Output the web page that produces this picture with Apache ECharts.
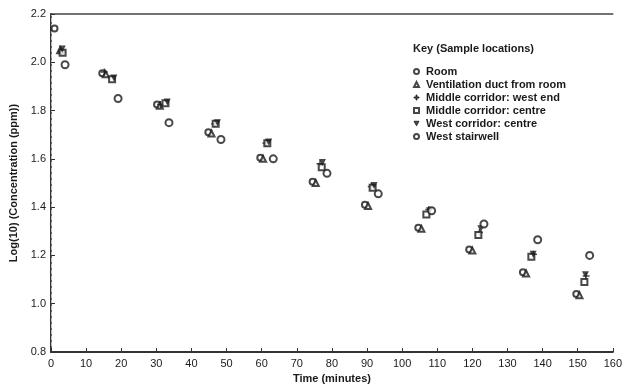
<!DOCTYPE html>
<html>
<head>
<meta charset="utf-8">
<script src="https://cdn.jsdelivr.net/npm/echarts@6/dist/echarts.min.js"></script>
<style>html,body{margin:0;padding:0;background:#fff}#c{width:625px;height:390px}</style>
</head>
<body>
<div id="c"></div>
<script>
var xTicks = [0,10,20,30,40,50,60,70,80,90,100,110,120,130,140,150,160];
var yTicks = [0.8,1.0,1.2,1.4,1.6,1.8,2.0,2.2];
var seriesNames = ["Room","Ventilation duct from room","Middle corridor: west end","Middle corridor: centre","West corridor: centre","West stairwell"];
var room = [[1,2.14],[14.6,1.955],[30.2,1.825],[44.8,1.71],[59.6,1.605],[74.5,1.505],[89.4,1.41],[104.6,1.315],[119.1,1.225],[134.4,1.13],[149.6,1.04]];
var ventDuct = [[2.6,2.05],[15.6,1.95],[31,1.82],[45.7,1.705],[60.4,1.6],[75.4,1.5],[90.3,1.405],[105.5,1.31],[120,1.22],[135.3,1.125],[150.5,1.035]];
var midWestEnd = [[3,2.045],[15.2,1.96],[31.2,1.825],[46.6,1.745],[61.2,1.665],[76.6,1.58],[91.2,1.485],[107.6,1.39],[122,1.295],[137.4,1.205],[152.4,1.115]];
var midCentre = [[3.3,2.04],[17.4,1.93],[32.6,1.83],[46.9,1.745],[61.6,1.665],[77.1,1.565],[91.6,1.48],[106.9,1.37],[121.7,1.285],[136.8,1.195],[151.9,1.09]];
var westCorridor = [[3.2,2.055],[17.9,1.935],[33.1,1.835],[47.4,1.75],[62,1.67],[77.3,1.585],[92,1.49],[107.8,1.385],[122.4,1.31],[137.3,1.205],[152.2,1.12]];
var westStair = [[4,1.99],[19.1,1.85],[33.6,1.75],[48.4,1.68],[63.3,1.60],[78.6,1.54],[93.2,1.455],[108.4,1.385],[123.3,1.33],[138.6,1.265],[153.4,1.20]];

var ink = '#1a1a1a';
var font = 'Liberation Sans';
var symbols = [
  {s:'emptyCircle', size:6, lw:1.3},
  {s:'emptyTriangle', size:6, lw:1.3},
  {s:'path://M4,0h2v4h4v2h-4v4h-2v-4h-4v-2h4z', size:7, lw:0},
  {s:'emptyRect', size:6, lw:1.3},
  {s:'path://M0,0L10,0L5,9Z', size:7, lw:0},
  {s:'emptyCircle', size:7, lw:1.8}
];
var datas = [room, ventDuct, midWestEnd, midCentre, westCorridor, westStair];
var series = datas.map(function(d,i){
  return {
    name: seriesNames[i], type:'scatter', data:d,
    symbol: symbols[i].s, symbolSize: symbols[i].size,
    itemStyle: {color: ink, borderColor: ink, borderWidth: symbols[i].lw},
    xAxisIndex:0, yAxisIndex:0, z: 3
  };
});

var chart = echarts.init(document.getElementById('c'));
chart.setOption({
  backgroundColor:'#fff',
  animation:false,
  grid:{left:51, right:12, top:14, bottom:38},
  title:{text:'Key (Sample locations)', left:408, top:38,
    textStyle:{fontFamily:font, fontSize:11, fontWeight:'bold', color:ink}},
  legend:{orient:'vertical', left:408, top:61, itemGap:2, itemWidth:5, itemHeight:5,
    data: seriesNames,
    itemStyle:{borderWidth:1},
    textStyle:{fontFamily:font, fontSize:11, fontWeight:'bold', color:ink, lineHeight:11, padding:[0,0,0,2]}},
  xAxis:[{
    type:'value', min:xTicks[0], max:xTicks[xTicks.length-1], interval:10,
    name:'Time (minutes)', nameLocation:'middle', nameGap:21,
    nameTextStyle:{fontFamily:font, fontSize:11, fontWeight:'bold', color:ink},
    axisLine:{lineStyle:{color:'#333', width:2}},
    axisTick:{inside:true, length:4, lineStyle:{color:'#333'}},
    axisLabel:{fontFamily:font, fontSize:11, color:ink, margin:6},
    splitLine:{show:false}
  },{
    type:'value', position:'top', min:0, max:160,
    axisLine:{lineStyle:{color:'#444', width:1.5}}, axisTick:{show:false}, axisLabel:{show:false}, splitLine:{show:false}
  }],
  yAxis:[{
    type:'value', min:yTicks[0], max:yTicks[yTicks.length-1], interval:0.2,
    name:'Log(10) (Concentration (ppm))', nameLocation:'middle', nameGap:30, nameRotate:90,
    nameTextStyle:{fontFamily:font, fontSize:11, fontWeight:'bold', color:ink},
    axisLine:{lineStyle:{color:'#333', width:2}},
    axisTick:{inside:true, length:4, lineStyle:{color:'#333'}},
    axisLabel:{fontFamily:font, fontSize:11, color:ink, margin:5, formatter:function(v){return v.toFixed(1);}},
    splitLine:{show:false}
  },{
    type:'value', position:'right', min:0.8, max:2.2,
    axisLine:{lineStyle:{color:'#bbb', width:1, type:'dashed'}}, axisTick:{show:false}, axisLabel:{show:false}, splitLine:{show:false}
  }],
  series: series
});
</script>
</body>
</html>
